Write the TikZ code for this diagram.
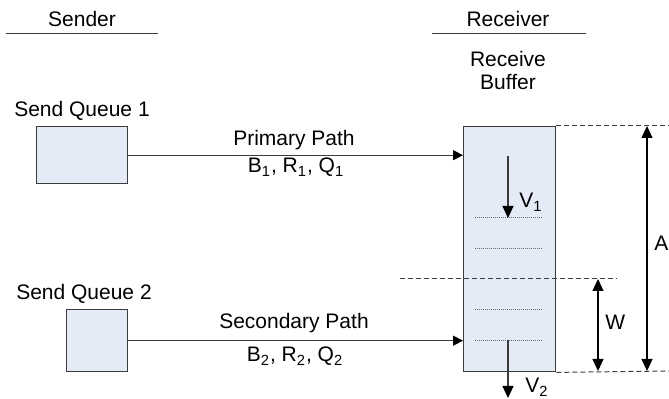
\documentclass[tikz,border=0pt]{standalone}
\usepackage{fontspec}
\setmainfont{Liberation Sans}
\usetikzlibrary{arrows.meta,positioning}
\definecolor{boxfill}{HTML}{E4EAF6}
\definecolor{edge}{HTML}{3C3C3C}
\definecolor{dotc}{HTML}{6A6A6A}
\tikzset{
  queue/.style={draw=edge, fill=boxfill, line width=0.7pt, inner sep=0pt, anchor=north west},
  link/.style={draw=edge, line width=0.55pt, -{Triangle[length=5pt,width=5pt,color=black]}},
  drain/.style={draw=edge, line width=0.55pt, -{Triangle[length=6pt,width=5.5pt,color=black]}},
  span/.style={draw=black, line width=0.55pt, {Triangle[length=6pt,width=5.5pt]}-{Triangle[length=6pt,width=5.5pt]}},
  guide/.style={draw=edge, line width=0.5pt, dash pattern=on 2.5pt off 1.5pt},
  fill level/.style={draw=dotc, line width=0.45pt, dash pattern=on 0.5pt off 0.5pt},
  rule/.style={draw=edge, line width=0.5pt},
  lab/.style={font=\fontsize{10.5}{12}\selectfont, inner sep=0pt, anchor=base},
}
\begin{document}
\begin{tikzpicture}[x=0.5pt, y=-0.5pt]
\useasboundingbox (0,0) rectangle (669,399);
% headings
\node[lab] (sender) at (82,27) {Sender};
\node[lab] (receiver) at (508,27) {Receiver};
\draw[rule] (6,34) -- (158,34);
\draw[rule] (432,34) -- (586,34);
% send queues
\node[lab] (sq1lab) at (82,117) {Send Queue 1};
\node[queue, minimum width=45.5pt, minimum height=28.5pt] (q1) at (36,126) {};
\node[lab] (sq2lab) at (84,300) {Send Queue 2};
\node[queue, minimum width=30.5pt, minimum height=31pt] (q2) at (66,309) {};
% receive buffer
\node[lab, align=center] (buflab) at (508,90) {Receive\\[-0.2pt]Buffer};
\node[queue, minimum width=46pt, minimum height=122.5pt] (buf) at (463,126) {};
\foreach \yy in {217,248,309,340}
  \draw[fill level] (475,\yy) -- (542,\yy);
% paths
\draw[link] (q1.east) -- (q1.east -| buf.west);
\draw[link] (q2.east) -- (q2.east -| buf.west);
\node[lab] (pp) at (294,146) {Primary Path};
\node[lab] (pq) at (296,173) {B\textsubscript{1}, R\textsubscript{1}, Q\textsubscript{1}};
\node[lab] (sp) at (294,329) {Secondary Path};
\node[lab] (sq) at (295,362) {B\textsubscript{2}, R\textsubscript{2}, Q\textsubscript{2}};
% drain rates
\coordinate (v1a) at (508,156);
\coordinate (v1b) at (508,218);
\coordinate (v2a) at (508,340);
\coordinate (v2b) at (508,398);
\draw[drain] (v1a) -- (v1b);
\draw[drain] (v2a) -- (v2b);
\node[lab, anchor=base west] (v1) at (519,208) {V\textsubscript{1}};
\node[lab, anchor=base west] (v2) at (525,393) {V\textsubscript{2}};
% levels
\coordinate (wtop) at (400,279);
\coordinate (wend) at (617,279);
\draw[guide] (buf.north east) -- (669,126);
\draw[guide] (buf.south east) -- (669,371);
\draw[guide] (wtop) -- (wend);
\coordinate (a1) at (647,126);
\coordinate (a2) at (647,371);
\coordinate (w1) at (598,279);
\coordinate (w2) at (598,371);
\draw[span] (a1) -- (a2);
\draw[span] (w1) -- (w2);
\node[lab, anchor=base west] (alab) at (654,251) {A};
\node[lab, anchor=base west] (wlab) at (605,330) {W};
\end{tikzpicture}
\end{document}
